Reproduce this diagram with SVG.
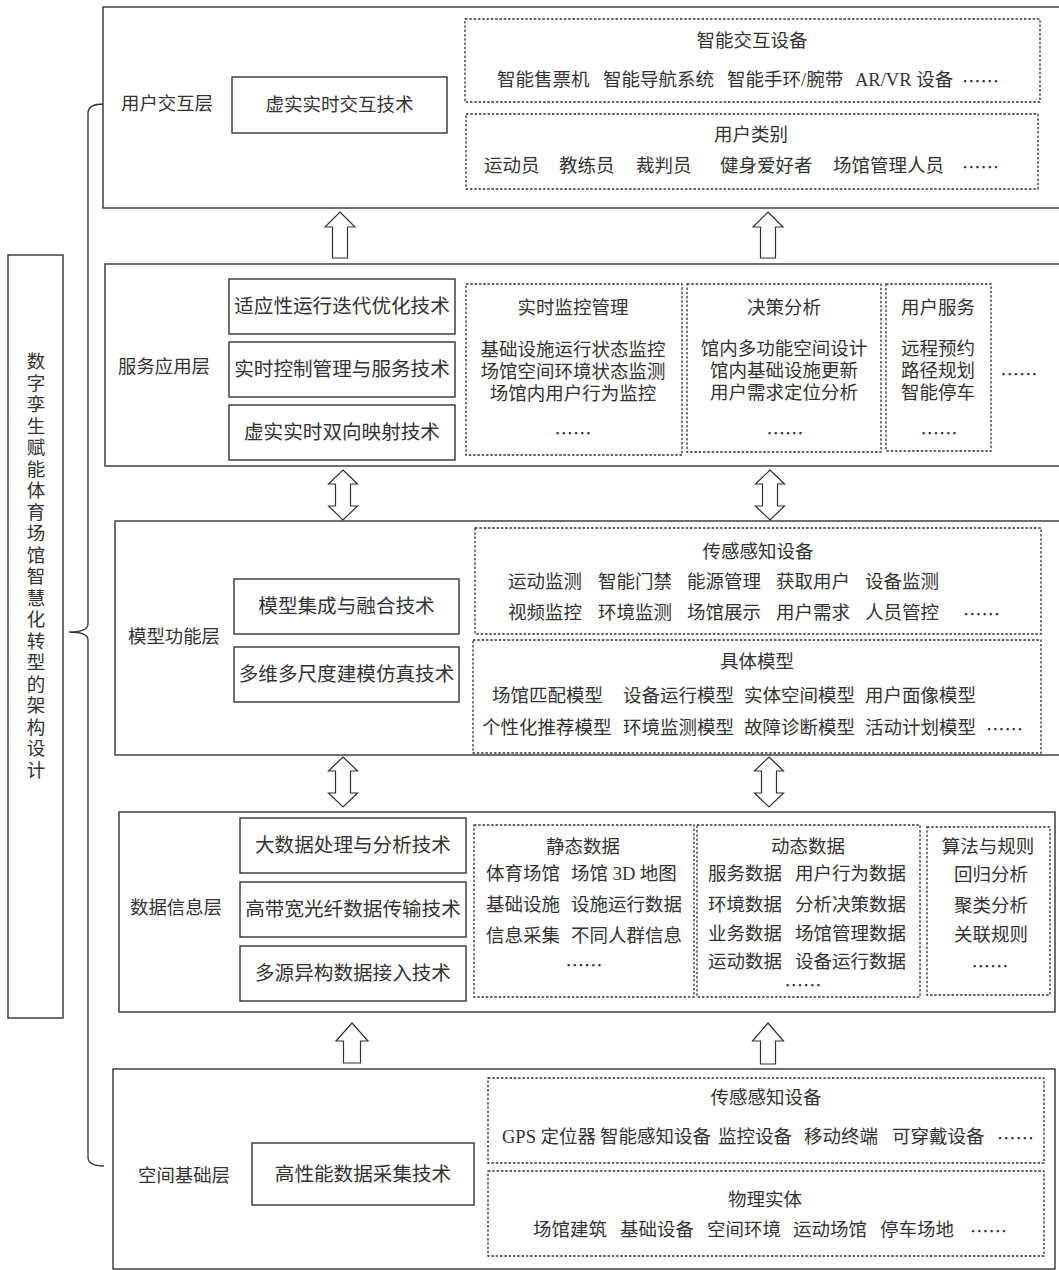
<svg xmlns="http://www.w3.org/2000/svg" width="1059" height="1270" viewBox="0 0 1059 1270">
<style>
text{font-family:"Liberation Serif","Noto Sans CJK SC",serif;fill:#333;dominant-baseline:central;font-size:18.5px}
.mid{text-anchor:middle}
.lbl{font-size:18.4px}
.tech{font-size:19.6px;text-anchor:middle}
.ell{font-family:"Noto Sans CJK SC",sans-serif}
.layer{fill:#fff;stroke:#333;stroke-width:1.4}
.box{fill:#fff;stroke:#333;stroke-width:1.4}
.dash{fill:none;stroke:#333;stroke-width:1.3;stroke-dasharray:2.5 1.8}
.arrow{fill:#fff;stroke:#333;stroke-width:1.2;stroke-linejoin:miter}
</style>
<rect width="1059" height="1270" fill="#fff"/>

<g id="title">
<rect class="box" x="8" y="255" width="55" height="763"/>
<text class="mid" font-size="18"><tspan x="36" y="362">数</tspan><tspan x="36" y="383.5">字</tspan><tspan x="36" y="405">孪</tspan><tspan x="36" y="426.5">生</tspan><tspan x="36" y="448">赋</tspan><tspan x="36" y="469.5">能</tspan><tspan x="36" y="491">体</tspan><tspan x="36" y="512.5">育</tspan><tspan x="36" y="534">场</tspan><tspan x="36" y="555.5">馆</tspan><tspan x="36" y="577">智</tspan><tspan x="36" y="598.5">慧</tspan><tspan x="36" y="620">化</tspan><tspan x="36" y="641.5">转</tspan><tspan x="36" y="663">型</tspan><tspan x="36" y="684.5">的</tspan><tspan x="36" y="706">架</tspan><tspan x="36" y="727.5">构</tspan><tspan x="36" y="749">设</tspan><tspan x="36" y="770.5">计</tspan></text>
</g>

<g id="connectors">
<path d="M104,104 Q88,104 88,113 L88,624 Q88,632 69,632 Q88,632 88,640 L88,1157 Q88,1166 104,1166" fill="none" stroke="#333" stroke-width="1.3"/>
<polygon class="arrow" points="340,212 355,227 347.5,227 347.5,258 332.5,258 332.5,227 325,227"/>
<polygon class="arrow" points="768,212 783,227 775.5,227 775.5,258 760.5,258 760.5,227 753,227"/>
<polygon class="arrow" points="343,470 357.5,484 350.5,484 350.5,506 357.5,506 343,520 328.5,506 335.5,506 335.5,484 328.5,484"/>
<polygon class="arrow" points="770,470 784.5,484 777.5,484 777.5,506 784.5,506 770,520 755.5,506 762.5,506 762.5,484 755.5,484"/>
<polygon class="arrow" points="343,757 357.5,771 350.5,771 350.5,793 357.5,793 343,807 328.5,793 335.5,793 335.5,771 328.5,771"/>
<polygon class="arrow" points="769,757 783.5,771 776.5,771 776.5,793 783.5,793 769,807 754.5,793 761.5,793 761.5,771 754.5,771"/>
<polygon class="arrow" points="352,1023 368,1041 360.5,1041 360.5,1063 343.5,1063 343.5,1041 336,1041"/>
<polygon class="arrow" points="768,1023 783.5,1041 775.5,1041 775.5,1064 760.5,1064 760.5,1041 752.5,1041"/>
</g>

<g id="layer-user">
<rect class="layer" x="103" y="7" width="970" height="201"/>
<text x="121" y="104" class="lbl">用户交互层</text>
<rect class="box" x="232" y="77" width="215" height="56"/>
<text x="339.5" y="105" class="mid">虚实实时交互技术</text>
<rect class="dash" x="465" y="19" width="575" height="83"/>
<text x="752" y="41" class="mid">智能交互设备</text>
<text y="80"><tspan x="497">智能售票机</tspan><tspan x="603">智能导航系统</tspan><tspan x="727">智能手环/腕带</tspan><tspan x="855">AR/VR 设备</tspan></text>
<text x="962" y="80" class="ell">……</text>
<rect class="dash" x="466" y="114" width="572" height="75"/>
<text x="751" y="135" class="mid">用户类别</text>
<text y="166"><tspan x="484">运动员</tspan><tspan x="559">教练员</tspan><tspan x="636">裁判员</tspan><tspan x="720">健身爱好者</tspan><tspan x="833">场馆管理人员</tspan></text>
<text x="962" y="166" class="ell">……</text>
</g>

<g id="layer-service">
<rect class="layer" x="105" y="264" width="970" height="202"/>
<text x="118" y="367" class="lbl">服务应用层</text>
<rect class="box" x="229" y="279" width="226" height="55"/>
<text x="342" y="306.5" class="tech">适应性运行迭代优化技术</text>
<rect class="box" x="229" y="342" width="226" height="55"/>
<text x="342" y="369.5" class="tech">实时控制管理与服务技术</text>
<rect class="box" x="229" y="405" width="226" height="55"/>
<text x="342" y="432.5" class="tech">虚实实时双向映射技术</text>
<rect class="dash" x="466" y="284" width="216" height="171"/>
<text x="573" y="308" class="mid">实时监控管理</text>
<text x="573" y="350" class="mid">基础设施运行状态监控</text>
<text x="573" y="372" class="mid">场馆空间环境状态监测</text>
<text x="573" y="394" class="mid">场馆内用户行为监控</text>
<text x="573" y="432" class="mid ell">……</text>
<rect class="dash" x="687" y="284" width="194" height="168"/>
<text x="784" y="308" class="mid">决策分析</text>
<text x="784" y="349" class="mid">馆内多功能空间设计</text>
<text x="784" y="371" class="mid">馆内基础设施更新</text>
<text x="784" y="393" class="mid">用户需求定位分析</text>
<text x="785" y="432" class="mid ell">……</text>
<rect class="dash" x="886" y="284" width="105" height="167"/>
<text x="938" y="308" class="mid">用户服务</text>
<text x="938" y="349" class="mid">远程预约</text>
<text x="938" y="371" class="mid">路径规划</text>
<text x="938" y="393" class="mid">智能停车</text>
<text x="939" y="432" class="mid ell">……</text>
<text x="1019" y="373" class="mid ell">……</text>
</g>

<g id="layer-model">
<rect class="layer" x="115" y="521" width="960" height="234"/>
<text x="128" y="637" class="lbl">模型功能层</text>
<rect class="box" x="234" y="579" width="225" height="55"/>
<text x="346.5" y="606.5" class="tech">模型集成与融合技术</text>
<rect class="box" x="234" y="647" width="225" height="55"/>
<text x="346.5" y="674.5" class="tech">多维多尺度建模仿真技术</text>
<rect class="dash" x="475" y="528" width="566" height="106"/>
<text x="758" y="552" class="mid">传感感知设备</text>
<text y="582"><tspan x="508">运动监测</tspan><tspan x="598">智能门禁</tspan><tspan x="687">能源管理</tspan><tspan x="776">获取用户</tspan><tspan x="865">设备监测</tspan></text>
<text y="613"><tspan x="508">视频监控</tspan><tspan x="598">环境监测</tspan><tspan x="687">场馆展示</tspan><tspan x="776">用户需求</tspan><tspan x="865">人员管控</tspan></text>
<text x="963" y="613" class="ell">……</text>
<rect class="dash" x="473" y="640" width="568" height="113"/>
<text x="757" y="662" class="mid">具体模型</text>
<text y="696"><tspan x="492">场馆匹配模型</tspan><tspan x="623">设备运行模型</tspan><tspan x="744">实体空间模型</tspan><tspan x="865">用户面像模型</tspan></text>
<text y="728"><tspan x="482">个性化推荐模型</tspan><tspan x="623">环境监测模型</tspan><tspan x="744">故障诊断模型</tspan><tspan x="865">活动计划模型</tspan></text>
<text x="986" y="728" class="ell">……</text>
</g>

<g id="layer-data">
<rect class="layer" x="119" y="812" width="936" height="200"/>
<text x="130" y="908" class="lbl">数据信息层</text>
<rect class="box" x="240" y="818" width="226" height="55"/>
<text x="353" y="845.5" class="tech">大数据处理与分析技术</text>
<rect class="box" x="240" y="882" width="226" height="55"/>
<text x="353" y="909.5" class="tech">高带宽光纤数据传输技术</text>
<rect class="box" x="240" y="946" width="226" height="55"/>
<text x="353" y="973.5" class="tech">多源异构数据接入技术</text>
<rect class="dash" x="474" y="825" width="220" height="172"/>
<text x="583" y="847" class="mid">静态数据</text>
<text y="874"><tspan x="486">体育场馆</tspan><tspan x="571">场馆 3D 地图</tspan></text>
<text y="905"><tspan x="486">基础设施</tspan><tspan x="571">设施运行数据</tspan></text>
<text y="936"><tspan x="486">信息采集</tspan><tspan x="571">不同人群信息</tspan></text>
<text x="584" y="964" class="mid ell">……</text>
<rect class="dash" x="697" y="825" width="223" height="172"/>
<text x="808" y="847" class="mid">动态数据</text>
<text y="874"><tspan x="708">服务数据</tspan><tspan x="795">用户行为数据</tspan></text>
<text y="905"><tspan x="708">环境数据</tspan><tspan x="795">分析决策数据</tspan></text>
<text y="934"><tspan x="708">业务数据</tspan><tspan x="795">场馆管理数据</tspan></text>
<text y="962"><tspan x="708">运动数据</tspan><tspan x="795">设备运行数据</tspan></text>
<text x="803" y="984" class="mid ell">……</text>
<rect class="dash" x="927" y="827" width="123" height="168"/>
<text x="988" y="847" class="mid">算法与规则</text>
<text x="991" y="875" class="mid">回归分析</text>
<text x="991" y="906" class="mid">聚类分析</text>
<text x="991" y="935" class="mid">关联规则</text>
<text x="990" y="965" class="mid ell">……</text>
</g>

<g id="layer-space">
<rect class="layer" x="113" y="1069" width="942" height="200"/>
<text x="138" y="1176" class="lbl">空间基础层</text>
<rect class="box" x="252" y="1143" width="222" height="62"/>
<text x="363" y="1174" class="tech">高性能数据采集技术</text>
<rect class="dash" x="488" y="1078" width="556" height="85"/>
<text x="766" y="1098" class="mid">传感感知设备</text>
<text y="1137"><tspan x="502">GPS 定位器</tspan><tspan x="600">智能感知设备</tspan><tspan x="718">监控设备</tspan><tspan x="804">移动终端</tspan><tspan x="892">可穿戴设备</tspan></text>
<text x="997" y="1137" class="ell">……</text>
<rect class="dash" x="488" y="1171" width="556" height="85"/>
<text x="765" y="1200" class="mid">物理实体</text>
<text y="1230"><tspan x="533">场馆建筑</tspan><tspan x="620">基础设备</tspan><tspan x="707">空间环境</tspan><tspan x="793">运动场馆</tspan><tspan x="880">停车场地</tspan></text>
<text x="970" y="1230" class="ell">……</text>
</g>
</svg>
